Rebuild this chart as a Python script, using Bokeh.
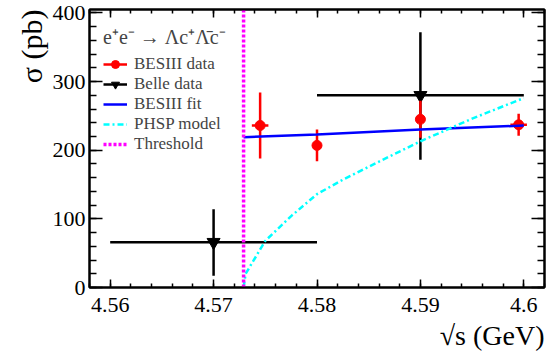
from bokeh.plotting import figure
from bokeh.models import (Range1d, LinearAxis, FixedTicker, Title, Legend,
                          LegendItem, ColumnDataSource)
from bokeh.embed import file_html
from bokeh.resources import INLINE

# ---- data ----
x_ticks = [4.56, 4.57, 4.58, 4.59, 4.6]
x_tick_labels = ["4.56", "4.57", "4.58", "4.59", "4.6"]
x_minor = [4.558 + 0.002 * i for i in range(23)]
y_ticks = [0, 100, 200, 300, 400]
y_tick_labels = ["0", "100", "200", "300", "400"]
y_minor = [20 * i for i in range(21)]

besiii_x = [4.5745, 4.58, 4.59, 4.5995]
besiii_y = [236, 207, 245, 237]
besiii_yerr = [48, 23, 27, 16]
besiii_xerr = [0.0008, 0.0, 0.0, 0.0008]

belle_x = [4.57, 4.59]
belle_y = [66, 280]
belle_xerr = [0.01, 0.01]
belle_yerr_up = [48, 92]
belle_yerr_dn = [49, 94]

fit_x = [4.5729, 4.58, 4.59, 4.6]
fit_y = [219, 223, 230, 236]

phsp_x = [4.5729, 4.5731, 4.575, 4.5775, 4.58, 4.5825, 4.585, 4.59, 4.595, 4.6]
phsp_y = [0, 20, 68, 104, 136, 157, 176, 213, 246, 276]

threshold = 4.5729

FONT = "Liberation Serif"

p = figure(width=550, height=360,
           x_range=Range1d(4.558, 4.602), y_range=Range1d(0, 405),
           output_backend="svg", toolbar_location=None,
           min_border_left=89, min_border_right=6,
           min_border_top=9, min_border_bottom=73)
p.xgrid.visible = False
p.ygrid.visible = False
p.outline_line_color = "black"
p.outline_line_width = 2
p.background_fill_color = "white"


def style_axis(ax, major, minor):
    ax.axis_line_color = "black"
    ax.axis_line_width = 2
    ax.major_tick_line_width = 1.5
    ax.minor_tick_line_width = 1.5
    ax.major_tick_in = major
    ax.major_tick_out = 0
    ax.minor_tick_in = minor
    ax.minor_tick_out = 0
    ax.major_label_text_font = FONT
    ax.major_label_text_font_size = "22px"
    ax.major_label_text_color = "black"


p.xaxis.ticker = FixedTicker(ticks=x_ticks, minor_ticks=x_minor)
p.yaxis.ticker = FixedTicker(ticks=y_ticks, minor_ticks=y_minor)
p.xaxis.major_label_overrides = dict(zip(x_ticks, x_tick_labels))
p.yaxis.major_label_overrides = dict(zip(y_ticks, y_tick_labels))
style_axis(p.xaxis[0], 8, 4)
style_axis(p.yaxis[0], 13, 7)
p.xaxis.major_label_standoff = 10
p.yaxis.major_label_standoff = 4

top = LinearAxis(ticker=FixedTicker(ticks=x_ticks, minor_ticks=x_minor),
                 major_label_overrides={t: "" for t in x_ticks})
style_axis(top, 8, 4)
top.major_label_standoff = 0
right = LinearAxis(ticker=FixedTicker(ticks=y_ticks, minor_ticks=y_minor),
                   major_label_overrides={t: "" for t in y_ticks})
style_axis(right, 13, 7)
right.major_label_standoff = 0
p.add_layout(top, "above")
p.add_layout(right, "right")

# ---- Belle ----
belle_src = ColumnDataSource(dict(
    x=belle_x, y=belle_y,
    xl=[a - b for a, b in zip(belle_x, belle_xerr)],
    xr=[a + b for a, b in zip(belle_x, belle_xerr)],
    yl=[a - b for a, b in zip(belle_y, belle_yerr_dn)],
    yh=[a + b for a, b in zip(belle_y, belle_yerr_up)],
))
belle_h = p.segment("xl", "y", "xr", "y", source=belle_src, line_color="black", line_width=2.5)
belle_v = p.segment("x", "yl", "x", "yh", source=belle_src, line_color="black", line_width=2.5)
belle_m = p.scatter("x", "y", source=belle_src, marker="inverted_triangle", size=13,
                    fill_color="black", line_color="black")

# ---- BESIII ----
bes_src = ColumnDataSource(dict(
    x=besiii_x, y=besiii_y,
    xl=[a - b for a, b in zip(besiii_x, besiii_xerr)],
    xr=[a + b for a, b in zip(besiii_x, besiii_xerr)],
    yl=[a - b for a, b in zip(besiii_y, besiii_yerr)],
    yh=[a + b for a, b in zip(besiii_y, besiii_yerr)],
))
bes_h = p.segment("xl", "y", "xr", "y", source=bes_src, line_color="red", line_width=2.5)
bes_v = p.segment("x", "yl", "x", "yh", source=bes_src, line_color="red", line_width=2.5)
bes_m = p.scatter("x", "y", source=bes_src, marker="circle", size=10,
                  fill_color="red", line_color="red")

# ---- curves ----
fit_r = p.line(fit_x, fit_y, line_color="blue", line_width=2.5)
phsp_r = p.line(phsp_x, phsp_y, line_color="cyan", line_width=2.5, line_dash="6 3 2 3")
thr_r = p.line([threshold, threshold], [p.y_range.start, p.y_range.end],
               line_color="magenta", line_width=3.5, line_dash="3 2")

legend = Legend(items=[
    LegendItem(label="BESIII data", renderers=[bes_v, bes_m]),
    LegendItem(label="Belle data", renderers=[belle_v, belle_m]),
    LegendItem(label="BESIII fit", renderers=[fit_r]),
    LegendItem(label="PHSP model", renderers=[phsp_r]),
    LegendItem(label="Threshold", renderers=[thr_r]),
], location="top_left",
    title="e\u207ae\u207b \u2192 \u039bc\u207a\u039b\u0304c\u207b")
legend.background_fill_alpha = 0
legend.border_line_alpha = 0
legend.label_text_font = FONT
legend.label_text_font_size = "17px"
legend.title_text_font = FONT
legend.title_text_font_size = "20px"
legend.title_text_font_style = "normal"
legend.glyph_width = 24
legend.glyph_height = 20
legend.label_height = 20
legend.spacing = 0
legend.padding = 8
legend.margin = 6
legend.label_standoff = 7
legend.title_standoff = 4
p.add_layout(legend)

p.add_layout(Title(text="\u03c3 (pb)", align="right", text_font=FONT,
                   text_font_size="30px", text_font_style="normal",
                   text_color="black", standoff=4), "left")
p.add_layout(Title(text="\u221as (GeV)", align="right", text_font=FONT,
                   text_font_size="28px", text_font_style="normal",
                   text_color="black", standoff=6), "below")

open("out.html", "w").write(file_html(p, INLINE))
